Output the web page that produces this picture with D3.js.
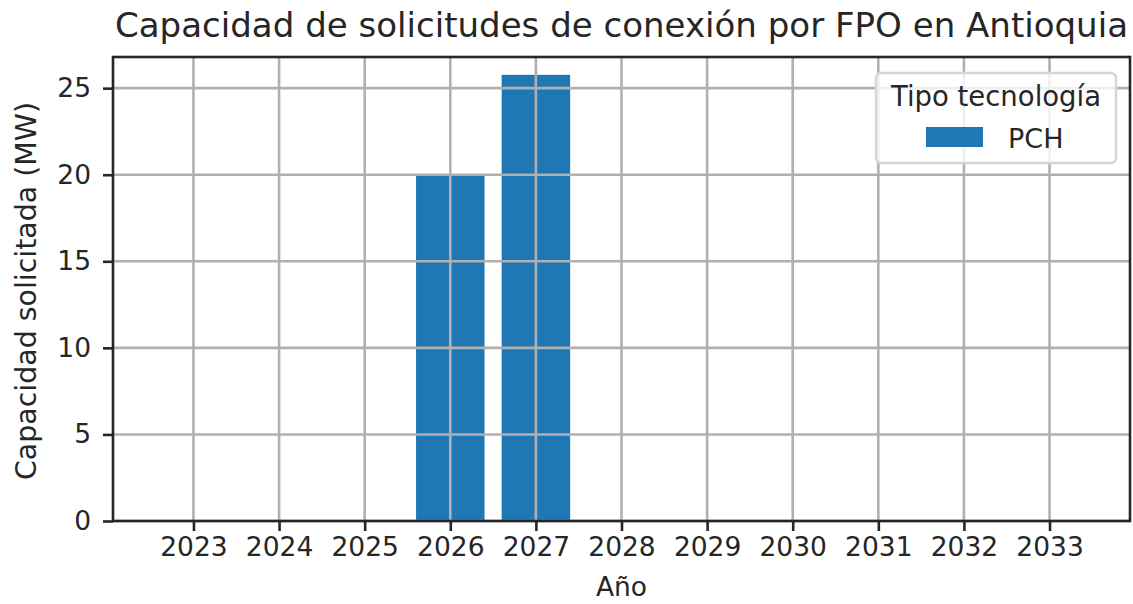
<!DOCTYPE html>
<meta charset="utf-8">
<style>
  body { margin: 0; background: #fff; }
  text { font-family: "DejaVu Sans", sans-serif; fill: #262626; }
  .grid line { stroke: #b0b0b0; stroke-width: 2.6px; }
  .axis path, .axis line { stroke: #262626; stroke-width: 2.6px; }
  .axis text { font-size: 26.5px; fill: #262626; font-family: "DejaVu Sans", sans-serif; }
  .spine { stroke: #262626; stroke-width: 2.6px; fill: none; }
  .bar { fill: #1f77b4; }
</style>
<body>
<div id="vis"></div>
<script src="https://cdn.jsdelivr.net/npm/d3@7"></script>
<script>

const years = [2023, 2024, 2025, 2026, 2027, 2028, 2029, 2030, 2031, 2032, 2033];
const pchValues = [0, 0, 0, 20, 25.77, 0, 0, 0, 0, 0, 0];
const yTicks = [0, 5, 10, 15, 20, 25];
const seriesName = 'PCH';
const barColor = '#1f77b4';

const width = 1133,
    height = 604;
let margin = {l:113, r:3, t:57, b:83};
let innerW = width - margin.l - margin.r;
let innerH = height - margin.t - margin.b;

// matplotlib style limits: bar width 0.8, 5% padding
let barW = 0.8;
let x0 = d3.min(years) - barW/2, x1 = d3.max(years) + barW/2;
let pad = (x1 - x0) * 0.05;
let xScale = d3.scaleLinear().domain([x0 - pad, x1 + pad]).range([0, innerW]);
let yScale = d3.scaleLinear().domain([0, 26.8]).range([innerH, 0]);

const svg = d3.select('#vis').append('svg')
    .attr('width', width)
    .attr('height', height);

svg.append('text')
    .attr('x', margin.l + innerW/2)
    .attr('y', 37)
    .attr('textLength', 1013)
    .attr('lengthAdjust', 'spacingAndGlyphs')
    .style('text-anchor', 'middle')
    .style('font-size', '34px')
    .text('Capacidad de solicitudes de conexión por FPO en Antioquia');

const g = svg.append('g')
    .attr('transform', 'translate('+[margin.l, margin.t]+')');

let data = years.map((y, i) => ({year: y, value: pchValues[i]}));

g.selectAll('.bar')
  .data(data)
  .enter().append('rect')
  .attr('class', 'bar')
  .attr('x', d => xScale(d.year - barW/2))
  .attr('width', d => xScale(d.year + barW/2) - xScale(d.year - barW/2))
  .attr('y', d => yScale(d.value))
  .attr('height', d => yScale(0) - yScale(d.value));

// grid drawn above bars
let grid = g.append('g').attr('class', 'grid');
grid.selectAll('.gx')
  .data(years)
  .enter().append('line')
  .attr('x1', d => xScale(d)).attr('x2', d => xScale(d))
  .attr('y1', 0).attr('y2', innerH);
grid.selectAll('.gy')
  .data(yTicks)
  .enter().append('line')
  .attr('x1', 0).attr('x2', innerW)
  .attr('y1', d => yScale(d)).attr('y2', d => yScale(d));

let xAxis = g.append('g')
  .attr('class', 'axis')
  .attr('transform', 'translate(0,'+innerH+')')
  .call(d3.axisBottom(xScale).tickValues(years).tickFormat(d3.format('d')).tickSize(10).tickPadding(6));
xAxis.select('.domain').remove();

let yAxis = g.append('g')
  .attr('class', 'axis')
  .call(d3.axisLeft(yScale).tickValues(yTicks).tickSize(10).tickPadding(12));
yAxis.select('.domain').remove();

g.append('rect')
  .attr('class', 'spine')
  .attr('width', innerW)
  .attr('height', innerH);

svg.append('text')
  .attr('x', margin.l + innerW/2)
  .attr('y', 596)
  .style('text-anchor', 'middle')
  .style('font-size', '26.5px')
  .text('Año');

svg.append('text')
  .attr('transform', 'translate('+[36, margin.t + innerH/2 + 2]+') rotate(-90)')
  .attr('textLength', 378)
  .attr('lengthAdjust', 'spacingAndGlyphs')
  .style('text-anchor', 'middle')
  .style('font-size', '29px')
  .text('Capacidad solicitada (MW)');

// legend
let lg = svg.append('g').attr('transform', 'translate(876,73)');
lg.append('rect')
  .attr('width', 240)
  .attr('height', 90)
  .attr('rx', 5)
  .style('fill', 'rgba(255,255,255,0.8)')
  .style('stroke', '#d6d6d6')
  .style('stroke-width', 2.4);
lg.append('text')
  .attr('x', 120)
  .attr('y', 33)
  .style('text-anchor', 'middle')
  .style('font-size', '27.5px')
  .text('Tipo tecnología');
lg.append('rect')
  .attr('x', 50)
  .attr('y', 54)
  .attr('width', 57)
  .attr('height', 20)
  .style('fill', barColor);
lg.append('text')
  .attr('x', 132)
  .attr('y', 75)
  .style('font-size', '27px')
  .text(seriesName);

</script>
</body>
